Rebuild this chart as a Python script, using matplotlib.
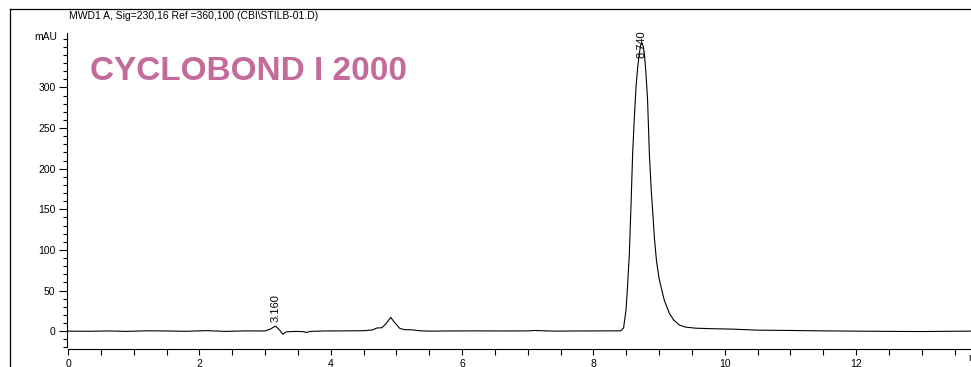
import matplotlib
matplotlib.use('Agg')
import matplotlib.pyplot as plt
from matplotlib.lines import Line2D
from matplotlib.ticker import MultipleLocator

plt.rcParams['font.family'] = ['Liberation Sans', 'DejaVu Sans']

# chromatogram (time in min, signal in mAU)
times = [0.0, 0.3, 0.6, 0.9, 1.2, 1.5, 1.8, 2.1, 2.4, 2.7, 3.0, 3.08, 3.16, 3.22,
         3.27, 3.32, 3.4, 3.5, 3.58, 3.63, 3.7, 3.9, 4.2, 4.5, 4.64, 4.70, 4.78,
         4.84, 4.914, 4.98, 5.05, 5.12, 5.24, 5.35, 5.5, 5.8, 6.2, 6.6, 7.0, 7.1,
         7.4, 7.8, 8.2, 8.38, 8.42, 8.46, 8.497, 8.52, 8.548, 8.575, 8.598, 8.625,
         8.649, 8.675, 8.70, 8.72, 8.74, 8.76, 8.776, 8.80, 8.825, 8.852, 8.88,
         8.905, 8.928, 8.96, 9.00, 9.03, 9.08, 9.156, 9.22, 9.308, 9.40, 9.562,
         9.8, 10.1, 10.5, 11.0, 11.5, 12.0, 12.5, 13.0, 13.4, 13.75]
signal = [0.0, -0.2, 0.2, -0.3, 0.4, 0.2, -0.2, 0.6, -0.3, 0.3, 0.2, 2.5, 6.2, 1.5,
          -3.8, -1.0, -0.5, -0.4, -0.6, -1.6, -0.3, 0.2, 0.3, 0.5, 1.5, 3.8, 4.2,
          9.0, 16.8, 10.0, 3.5, 1.8, 1.6, 0.5, 0.0, 0.2, 0.3, 0.2, 0.3, 0.8,
          0.0, 0.2, 0.3, 0.3, 0.5, 4.0, 26.0, 55.0, 96.0, 160.0, 219.0, 265.0,
          300.0, 325.0, 342.0, 352.0, 355.0, 350.0, 342.0, 318.0, 285.0, 219.0, 175.0,
          145.0, 116.0, 87.0, 65.0, 54.5, 38.0, 22.0, 14.0, 7.5, 5.0, 3.6,
          3.0, 2.5, 1.2, 0.8, 0.3, 0.0, -0.3, -0.5, -0.2, 0.0]

peak_times = [3.16, 8.74]
peak_labels = ['3.160', '8.740']
peak_label_y = [11, 336]

fig = plt.figure(figsize=(9.71, 3.67), dpi=100)
ax = fig.add_axes([68 / 971, 18 / 367, 903 / 971, 316 / 367])

ax.plot(times, signal, color='black', lw=0.8)

ax.set_xlim(0, 13.75)
ax.set_ylim(-22, 367)
for s in ['top', 'right']:
    ax.spines[s].set_visible(False)
ax.spines['left'].set_bounds(-20, 367)
ax.spines['left'].set_position(('outward', 1))

ax.xaxis.set_major_locator(MultipleLocator(2))
ax.xaxis.set_minor_locator(MultipleLocator(0.5))
ax.yaxis.set_minor_locator(MultipleLocator(10))
ax.set_yticks(range(0, 301, 50))
ax.tick_params(axis='x', which='both', length=4, width=0.8, labelsize=7.5, pad=3)
ax.tick_params(axis='y', which='major', length=6, width=0.8, labelsize=7.5, pad=2)
ax.tick_params(axis='y', which='minor', length=3, width=0.8)

ax.text(-0.16, 362, 'mAU', ha='right', va='center', fontsize=7.5)
ax.text(13.705, -27, 'min', ha='left', va='top', fontsize=7.5, clip_on=False)

for t, lab, y in zip(peak_times, peak_labels, peak_label_y):
    ax.text(t, y, lab, rotation=90, ha='center', va='bottom', fontsize=8)

ax.text(0.33, 320, 'CYCLOBOND I 2000', color='#c36b9b', fontsize=24,
        fontweight='bold', ha='left', va='center')

fig.text(69 / 971, 1 - 16 / 367, 'MWD1 A, Sig=230,16 Ref =360,100 (CBI\\STILB-01.D)',
         fontsize=7.5, ha='left', va='center')

# frame around the plot area
fig.add_artist(Line2D([9.5 / 971, 9.5 / 971], [0, 1 - 9 / 367], color='black', lw=0.9,
                      transform=fig.transFigure))
fig.add_artist(Line2D([9.5 / 971, 1], [1 - 9 / 367, 1 - 9 / 367], color='black', lw=0.9,
                      transform=fig.transFigure))

fig.savefig('out.png', dpi=100)
